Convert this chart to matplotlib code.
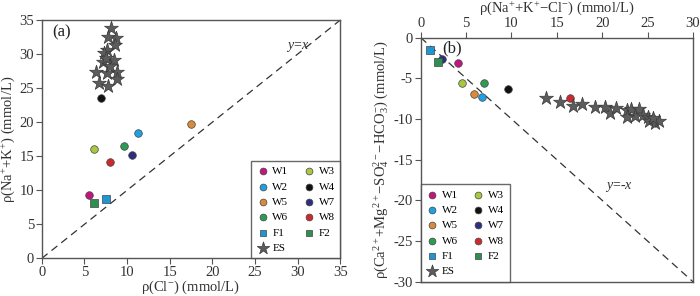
import matplotlib
matplotlib.use('Agg')
import matplotlib.pyplot as plt

plt.rcParams['font.family'] = ['Liberation Serif', 'DejaVu Serif']
plt.rcParams['mathtext.fontset'] = 'custom'
plt.rcParams['mathtext.rm'] = 'Liberation Serif'
plt.rcParams['mathtext.it'] = 'Liberation Serif:italic'
plt.rcParams['axes.unicode_minus'] = False

# samples: name, colour, marker
names = ['W1', 'W2', 'W3', 'W4', 'W5', 'W6', 'W7', 'W8', 'F1', 'F2']
colors = ['#c4157f', '#1fa0e2', '#a9c83f', '#111111', '#d98a3c', '#2e9b55',
          '#2b2f7e', '#cc2a2e', '#1e96d4', '#2f8f4f']
markers = ['o', 'o', 'o', 'o', 'o', 'o', 'o', 'o', 's', 's']

# panel (a): Cl- vs Na+ + K+
a_cl = [5.55, 11.26, 6.14, 6.92, 17.5, 9.7, 10.6, 8.05, 7.5, 6.1]
a_nak = [9.3, 18.35, 16.0, 23.5, 19.8, 16.5, 15.2, 14.1, 8.7, 8.1]
es_a_cl = [8.13, 8.7, 7.8, 8.6, 7.6, 7.35, 8.5, 7.2, 6.4, 8.8, 7.7, 6.7, 8.8, 7.8, 8.0, 7.55]
es_a_nak = [33.8, 32.4, 32.5, 31.3, 30.6, 30.1, 29.1, 28.9, 27.4, 27.4, 27.2, 25.7, 26.3, 25.3, 28.2, 29.4]

# panel (b): (Na+K-Cl) vs (Ca+Mg-SO4-HCO3)
b_x = [4.1, 6.7, 4.5, 9.6, 5.9, 6.98, 2.39, 16.5, 1.03, 1.95]
b_y = [-3.07, -7.25, -5.6, -6.35, -6.9, -5.53, -2.66, -7.4, -1.52, -3.0]
es_b_x = [13.77, 15.4, 16.8, 17.8, 19.2, 20.3, 20.9, 21.5, 22.7, 23.2, 24.1,
          23.6, 22.7, 24.5, 25.0, 25.2, 25.8, 26.3, 25.6]
es_b_y = [-7.46, -7.9, -8.4, -8.2, -8.57, -8.57, -9.3, -8.7, -8.9, -8.8, -8.8,
          -9.6, -9.7, -9.5, -9.7, -10.3, -10.5, -10.2, -9.9]

# legend order (column-wise for ncol=2)
leg_order = ['W1', 'W2', 'W5', 'W6', 'F1', 'ES', 'W3', 'W4', 'W7', 'W8', 'F2']

fig = plt.figure(figsize=(7, 2.96), dpi=100)
ax1 = fig.add_axes([0.0596, 0.127, 0.4264, 0.805])
ax2 = fig.add_axes([0.601, 0.048, 0.389, 0.825])

edge = '#444444'


def style(ax):
    for s in ax.spines.values():
        s.set_color('#555555')
        s.set_linewidth(1.0)
    ax.tick_params(direction='out', length=4, width=0.8, color='#555555',
                   labelsize=10.5, labelcolor='#333333', pad=1.5)


def draw(ax, xs, ys, esx, esy):
    h = {}
    for n, c, m, x, y in zip(names, colors, markers, xs, ys):
        h[n] = ax.scatter(x, y, s=30 if m == 'o' else 26, c=c, marker=m,
                          edgecolors=edge, linewidths=0.5, zorder=3, label=n)
    h['ES'] = ax.scatter(esx, esy, s=110, c='#5c5c5c', marker='*',
                         edgecolors='#3a3a3a', linewidths=0.5, zorder=4, label='ES')
    return h


def legend(ax, h, loc):
    lg = ax.legend([h[k] for k in leg_order], leg_order, ncol=2, loc=loc,
                   fontsize=8, frameon=True, fancybox=False, borderaxespad=0,
                   handletextpad=0.3, columnspacing=1.3, labelspacing=0.5,
                   borderpad=0.5, handlelength=1.1, markerscale=0.9)
    lg.get_frame().set_edgecolor('#444444')
    lg.get_frame().set_linewidth(1.0)


# (a)
style(ax1)
ax1.plot([0, 35], [0, 35], ls=(0, (6, 4)), color='#333333', lw=0.9, zorder=1)
h1 = draw(ax1, a_cl, a_nak, es_a_cl, es_a_nak)
ax1.set_xlim(0, 35)
ax1.set_ylim(0, 35)
ax1.set_xticks(range(0, 36, 5))
ax1.set_yticks(range(0, 36, 5))
ax1.set_xlabel(r'ρ(Cl$^{-}$) (mmol/L)', fontsize=10.5, color='#333333', labelpad=0)
ax1.set_ylabel(r'ρ(Na$^{+}$+K$^{+}$) (mmol/L)', fontsize=10.5, color='#333333', labelpad=2)
ax1.text(1.2, 33.2, '(a)', fontsize=12, va='center', color='#222222')
ax1.text(28.6, 31.1, r'$\it{y}$=$\it{x}$', fontsize=10, va='center', color='#333333')
legend(ax1, h1, 'lower right')

# (b)
style(ax2)
ax2.plot([0, 30], [0, -30], ls=(0, (6, 4)), color='#333333', lw=0.9, zorder=1)
h2 = draw(ax2, b_x, b_y, es_b_x, es_b_y)
ax2.set_xlim(0, 30)
ax2.set_ylim(-30, 0)
ax2.xaxis.tick_top()
ax2.xaxis.set_label_position('top')
ax2.set_xticks(range(0, 31, 5))
ax2.set_yticks(range(-30, 1, 5))
ax2.set_xlabel(r'ρ(Na$^{+}$+K$^{+}$−Cl$^{-}$) (mmol/L)', fontsize=10.5,
               color='#333333', labelpad=4)
ax2.set_ylabel(r'ρ(Ca$^{2+}$+Mg$^{2+}$−SO$_4^{2-}$−HCO$_3^{-}$) (mmol/L)',
               fontsize=10.5, color='#333333', labelpad=2)
ax2.text(2.4, -1.3, '(b)', fontsize=12, va='center', color='#222222')
ax2.text(20.3, -18.3, r'$\it{y}$=-$\it{x}$', fontsize=10, va='center', color='#333333')
legend(ax2, h2, 'lower left')

fig.savefig('out.png', dpi=100)
